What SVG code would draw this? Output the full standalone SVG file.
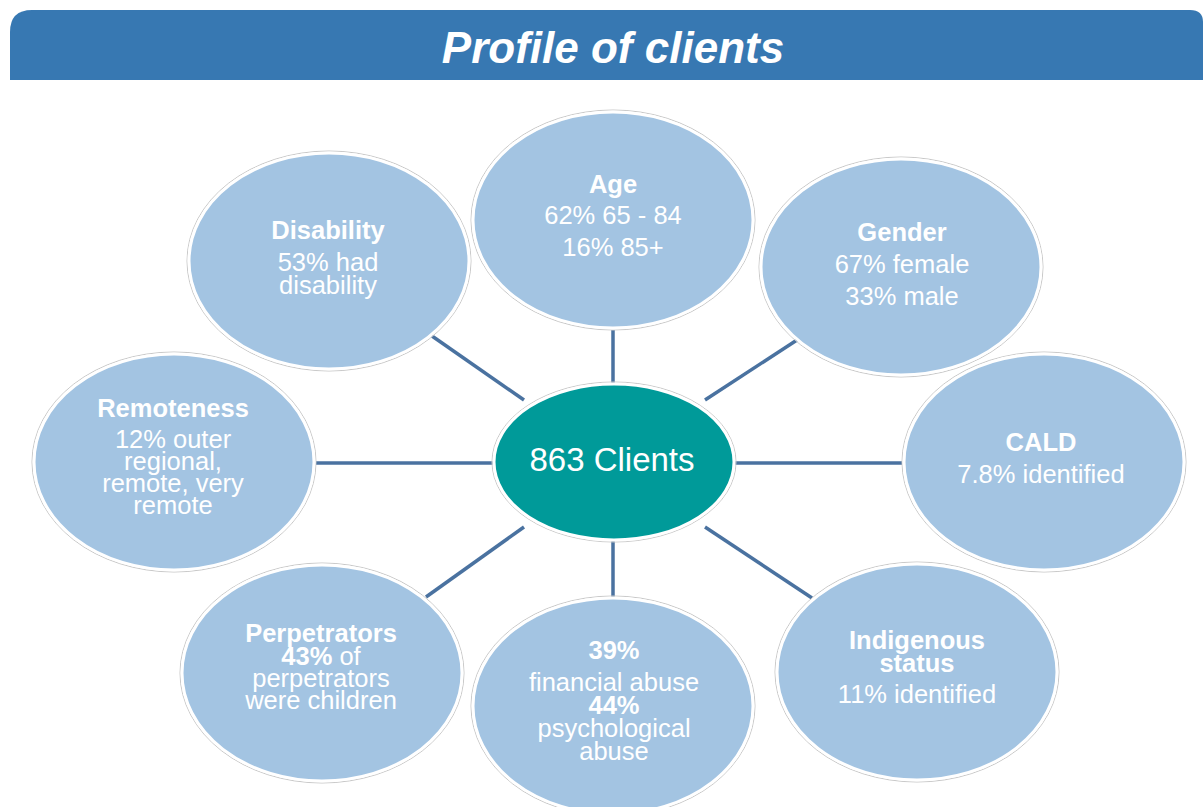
<svg xmlns="http://www.w3.org/2000/svg" width="1203" height="807" viewBox="0 0 1203 807">
  <style>
    .bub { fill: #a3c4e2; stroke: #ffffff; stroke-width: 3; }
    .rim { fill: none; stroke: #c8c8c8; stroke-width: 1; }
    .hub { fill: #009a99; stroke: #ffffff; stroke-width: 3; }
    .link { stroke: #4a72a0; stroke-width: 3.5; fill: none; }
    text { font-family: "Liberation Sans", Arial, Helvetica, sans-serif; fill: #ffffff; text-anchor: middle; font-size: 25.5px; }
    .b { font-weight: bold; }
    .title { font-size: 44px; font-weight: bold; font-style: italic; }
    .big { font-size: 33px; }
  </style>

  <!-- title banner -->
  <g id="banner">
    <path d="M10,80 L10,32 Q10,10 32,10 L1190,10 Q1203,10 1203,22 L1203,80 Z" fill="#3778b2"/>
    <text class="title" x="613" y="63">Profile of clients</text>
  </g>

  <!-- connectors from the hub to each category -->
  <g id="connectors">
    <line class="link" x1="613" y1="330" x2="613" y2="386"/>
    <line class="link" x1="432" y1="336" x2="524" y2="400"/>
    <line class="link" x1="797" y1="340" x2="705" y2="400"/>
    <line class="link" x1="316" y1="463" x2="494" y2="463"/>
    <line class="link" x1="734" y1="463" x2="902" y2="463"/>
    <line class="link" x1="426" y1="597" x2="524" y2="527"/>
    <line class="link" x1="613" y1="540" x2="613" y2="598"/>
    <line class="link" x1="705" y1="527" x2="812" y2="598"/>
  </g>

  <g id="age">
    <ellipse class="rim" cx="613" cy="220" rx="142" ry="110"/>
    <ellipse class="bub" cx="613" cy="220" rx="140" ry="108"/>
    <text x="613" y="193" class="b">Age</text>
    <text x="613" y="224">62% 65 - 84</text>
    <text x="613" y="256">16% 85+</text>
  </g>

  <g id="disability">
    <ellipse class="rim" cx="329" cy="261" rx="142" ry="110"/>
    <ellipse class="bub" cx="329" cy="261" rx="140" ry="108"/>
    <text x="328" y="239" class="b">Disability</text>
    <text x="328" y="271">53% had</text>
    <text x="328" y="294">disability</text>
  </g>

  <g id="gender">
    <ellipse class="rim" cx="901" cy="267" rx="142" ry="110"/>
    <ellipse class="bub" cx="901" cy="267" rx="140" ry="108"/>
    <text x="902" y="241" class="b">Gender</text>
    <text x="902" y="273">67% female</text>
    <text x="902" y="305">33% male</text>
  </g>

  <g id="remoteness">
    <ellipse class="rim" cx="174" cy="462" rx="142" ry="110"/>
    <ellipse class="bub" cx="174" cy="462" rx="140" ry="108"/>
    <text x="173" y="417" class="b">Remoteness</text>
    <text x="173" y="448">12% outer</text>
    <text x="173" y="470">regional,</text>
    <text x="173" y="492">remote, very</text>
    <text x="173" y="514">remote</text>
  </g>

  <g id="cald">
    <ellipse class="rim" cx="1044" cy="462" rx="142" ry="110"/>
    <ellipse class="bub" cx="1044" cy="462" rx="140" ry="108"/>
    <text x="1041" y="451" class="b">CALD</text>
    <text x="1041" y="483">7.8% identified</text>
  </g>

  <g id="perpetrators">
    <ellipse class="rim" cx="322" cy="673" rx="142" ry="110"/>
    <ellipse class="bub" cx="322" cy="673" rx="140" ry="108"/>
    <text x="321" y="642" class="b">Perpetrators</text>
    <text x="321" y="665"><tspan class="b">43%</tspan> of</text>
    <text x="321" y="687">perpetrators</text>
    <text x="321" y="709">were children</text>
  </g>

  <g id="abuse">
    <ellipse class="rim" cx="613" cy="706" rx="142" ry="110"/>
    <ellipse class="bub" cx="613" cy="706" rx="140" ry="108"/>
    <text x="614" y="659" class="b">39%</text>
    <text x="614" y="691">financial abuse</text>
    <text x="614" y="714" class="b">44%</text>
    <text x="614" y="737">psychological</text>
    <text x="614" y="760">abuse</text>
  </g>

  <g id="indigenous">
    <ellipse class="rim" cx="917" cy="672" rx="142" ry="110"/>
    <ellipse class="bub" cx="917" cy="672" rx="140" ry="108"/>
    <text x="917" y="649" class="b">Indigenous</text>
    <text x="917" y="672" class="b">status</text>
    <text x="917" y="703">11% identified</text>
  </g>

  <g id="clients">
    <ellipse class="rim" cx="614" cy="462" rx="122" ry="80"/>
    <ellipse class="hub" cx="614" cy="462" rx="120" ry="78"/>
    <text x="612" y="471" class="big">863 Clients</text>
  </g>
</svg>
